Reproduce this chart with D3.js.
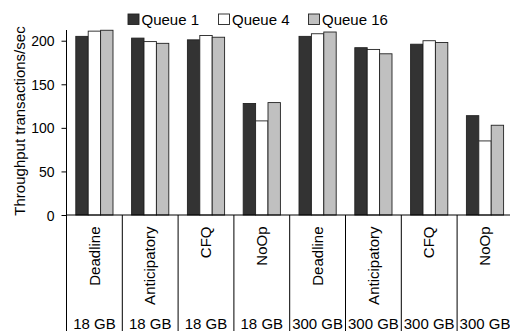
<!DOCTYPE html>
<html>
<head>
<meta charset="utf-8">
<script src="https://cdn.jsdelivr.net/npm/d3@7"></script>
<style>
  body { margin: 0; background: #fff; }
  svg text { font-family: "Liberation Sans", Arial, sans-serif; fill: #000; }
</style>
</head>
<body>
<div id="chart"></div>
<script>
// throughput per io scheduler, two disk sizes
const schedulers = ["Deadline", "Anticipatory", "CFQ", "NoOp", "Deadline", "Anticipatory", "CFQ", "NoOp"];
const sizes = ["18 GB", "18 GB", "18 GB", "18 GB", "300 GB", "300 GB", "300 GB", "300 GB"];
const seriesNames = ["Queue 1", "Queue 4", "Queue 16"];
const queue1 = [205, 203, 201, 128, 205, 192, 196, 114];
const queue4 = [211, 199, 206, 108, 208, 190, 200, 85];
const queue16 = [212, 197, 204, 129, 210, 185, 198, 103];
const yTicks = [0, 50, 100, 150, 200];
const colors = ["#333333", "#ffffff", "#c0c0c0"];

const width = 510, height = 331;
const left = 66.5, zeroY = 215, topY = 30;

const svg = d3.select("#chart")
    .append("svg")
    .attr("width", width)
    .attr("height", height);

const keys = schedulers.map((s, i) => i);
const x0 = d3.scaleBand()
    .domain(keys)
    .range([left, left + 8 * 55.8]);
const x1 = d3.scaleBand()
    .domain(seriesNames)
    .range([9.3, 46.5]);
const y = d3.scaleLinear()
    .domain([0, 212.3])
    .range([zeroY, topY]);

const allSeries = [queue1, queue4, queue16];

// bars
const groups = svg.selectAll(".group")
    .data(keys)
    .enter()
    .append("g")
    .attr("class", "group")
    .attr("transform", d => `translate(${x0(d)},0)`);

groups.selectAll("rect")
    .data(i => seriesNames.map((name, s) => ({ name: name, s: s, value: allSeries[s][i] })))
    .enter()
    .append("rect")
    .attr("x", d => x1(d.name))
    .attr("y", d => y(d.value))
    .attr("width", x1.bandwidth())
    .attr("height", d => zeroY - y(d.value))
    .style("fill", d => colors[d.s])
    .style("stroke", "#222")
    .style("stroke-width", 0.9);

// y axis
const yAxis = d3.axisLeft(y)
    .tickValues(yTicks)
    .tickSize(5)
    .tickPadding(7)
    .tickSizeOuter(0);

const ag = svg.append("g")
    .attr("transform", `translate(${left},0)`)
    .call(yAxis);
ag.select(".domain").remove();
ag.selectAll(".tick line").style("stroke", "#000");
ag.selectAll(".tick text")
    .style("font-size", "14px")
    .attr("dy", "0.36em");

svg.append("line")
    .attr("x1", left).attr("x2", left)
    .attr("y1", topY).attr("y2", height)
    .style("stroke", "#000");

svg.append("line")
    .attr("x1", left).attr("x2", width)
    .attr("y1", zeroY).attr("y2", zeroY)
    .style("stroke", "#000");

// category separators
svg.selectAll(".sep")
    .data(keys.slice(1))
    .enter()
    .append("line")
    .attr("class", "sep")
    .attr("x1", d => x0(d)).attr("x2", d => x0(d))
    .attr("y1", zeroY).attr("y2", height)
    .style("stroke", "#000");

// scheduler labels
svg.selectAll(".sched")
    .data(keys)
    .enter()
    .append("text")
    .attr("class", "sched")
    .attr("transform", d => `translate(${x0(d) + x0.bandwidth() / 2},226.5) rotate(-90)`)
    .attr("dy", "0.35em")
    .style("text-anchor", "end")
    .style("font-size", "15px")
    .text(d => schedulers[d]);

// size labels
svg.selectAll(".size")
    .data(keys)
    .enter()
    .append("text")
    .attr("class", "size")
    .attr("x", d => x0(d) + x0.bandwidth() / 2)
    .attr("y", 329)
    .style("text-anchor", "middle")
    .style("font-size", "15px")
    .text(d => sizes[d]);

// y title
svg.append("text")
    .attr("transform", "translate(25,121) rotate(-90)")
    .style("text-anchor", "middle")
    .style("font-size", "15px")
    .text("Throughput transactions/sec");

// legend
const legendX = [128, 218.5, 308.5];
const legend = svg.selectAll(".legend")
    .data(seriesNames)
    .enter()
    .append("g")
    .attr("class", "legend")
    .attr("transform", (d, i) => `translate(${legendX[i]},14)`);

legend.append("rect")
    .attr("width", 11)
    .attr("height", 10.5)
    .style("fill", (d, i) => colors[i])
    .style("stroke", "#222")
    .style("stroke-width", 0.9);

legend.append("text")
    .attr("x", 13.5)
    .attr("y", 10.5)
    .style("font-size", "15px")
    .text(d => d);
</script>
</body>
</html>
